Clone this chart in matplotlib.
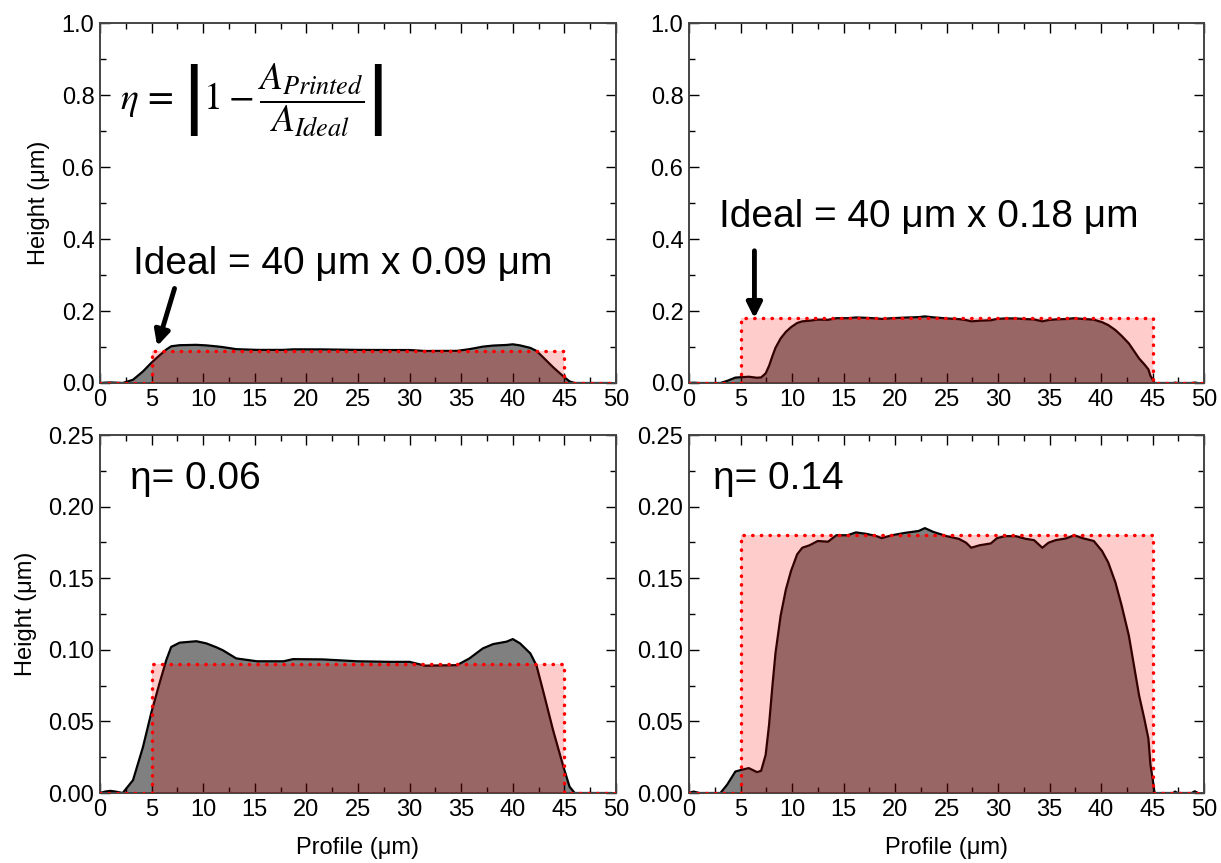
import numpy as np
import matplotlib
matplotlib.use("Agg")
import matplotlib.pyplot as plt
from matplotlib.ticker import MultipleLocator

plt.rcParams['font.family'] = ['Liberation Sans', 'DejaVu Sans']
plt.rcParams['mathtext.fontset'] = 'stix'

# printed profile, 0.09 um target
x1 = [0, 0.5, 1.0, 1.5, 2.2, 3.2, 4.16, 4.97, 5.78, 6.43, 6.9, 7.72, 9.34, 10.3, 11.3,
      11.9, 13.2, 15.2, 17.8, 18.7, 21.6, 24.9, 28.1, 30.0, 31.5, 34.6, 35.8, 37.1,
      38.1, 39.4, 40.0, 40.7, 41.7, 42.3, 43.0, 43.9, 44.9, 45.5, 46.0, 48.0, 49.5]
y1 = [0, 0.001, 0.0015, 0.001, 0, 0.009, 0.032, 0.056, 0.077, 0.093, 0.102, 0.105, 0.106,
      0.1045, 0.1017, 0.0997, 0.094, 0.092, 0.092, 0.0935, 0.0933, 0.092, 0.0916, 0.0916,
      0.0889, 0.0893, 0.094, 0.101, 0.104, 0.1057, 0.1075, 0.1045, 0.0975, 0.089, 0.0696,
      0.044, 0.0184, 0.0044, 0, 0, 0]

# printed profile, 0.18 um target
x2 = [0, 0.44, 1.0, 3.05, 3.7, 4.5, 5.0, 5.8, 6.6, 7.0, 7.44, 7.77, 8.1, 8.4, 8.9, 9.4, 9.9,
      10.5, 11.0, 11.7, 12.5, 13.5, 14.3, 15.4, 16.2, 17.2, 18.2, 18.7, 19.7, 21.0, 22.3,
      22.9, 23.7, 25.0, 26.2, 26.9, 27.4, 28.2, 29.3, 29.9, 30.7, 31.7, 32.7, 33.5, 34.3,
      34.9, 35.6, 36.6, 37.4, 38.2, 39.3, 40.1, 40.7, 41.4, 42.0, 42.7, 43.2, 43.7, 44.2,
      44.6, 44.8, 45.0, 45.2, 47.0, 47.2, 47.4, 48.8, 49.1, 49.4]
y2 = [0, 0.001, 0, 0, 0.0058, 0.015, 0.016, 0.0174, 0.0146, 0.0155, 0.0266, 0.0475, 0.075,
      0.098, 0.124, 0.142, 0.155, 0.1667, 0.1713, 0.173, 0.176, 0.1755, 0.180, 0.180, 0.182,
      0.181, 0.1794, 0.178, 0.180, 0.1817, 0.183, 0.185, 0.1824, 0.1794, 0.1775, 0.1748,
      0.1713, 0.173, 0.1743, 0.178, 0.1794, 0.1794, 0.1775, 0.1766, 0.1713, 0.1748, 0.1766,
      0.1778, 0.180, 0.178, 0.176, 0.169, 0.161, 0.147, 0.131, 0.110, 0.089, 0.068, 0.052,
      0.038, 0.0197, 0.0104, 0, 0, 0.001, 0, 0, 0.0012, 0]

# ideal rectangles
ideal_x = [0, 5, 5, 45, 45, 50]
ideal_h = [0.09, 0.18]

profiles = [(x1, y1), (x2, y2)]
ideal_txt = ['Ideal = 40 μm x 0.09 μm', 'Ideal = 40 μm x 0.18 μm']
eta_txt = ['η= 0.06', 'η= 0.14']

fig = plt.figure(figsize=(12.21, 8.63), dpi=100)
axes_pos = {
    (0, 0): [0.0819, 0.5562, 0.4226, 0.4171],
    (0, 1): [0.5643, 0.5562, 0.4218, 0.4171],
    (1, 0): [0.0819, 0.0811, 0.4226, 0.4148],
    (1, 1): [0.5643, 0.0811, 0.4218, 0.4148],
}

for (r, c), pos in axes_pos.items():
    ax = fig.add_axes(pos)
    px, py = profiles[c]
    h = ideal_h[c]
    iy = [0, 0, h, h, 0, 0]
    ax.fill_between(px, py, color='#808080', lw=0, zorder=1)
    ax.plot(px, py, color='black', lw=1.6, zorder=2)
    ax.fill_between(ideal_x, iy, color='red', alpha=0.2, lw=0, zorder=3)
    ax.plot(ideal_x, iy, color='red', ls=(0, (0.1, 2.4)), lw=2.5,
            dash_capstyle='round', zorder=4)

    ax.set_xlim(0, 50)
    ax.xaxis.set_major_locator(MultipleLocator(5))
    ax.xaxis.set_minor_locator(MultipleLocator(2.5))
    if r == 0:
        ax.set_ylim(0, 1.0)
        ax.yaxis.set_major_locator(MultipleLocator(0.2))
        ax.yaxis.set_minor_locator(MultipleLocator(0.1))
        ax.yaxis.set_major_formatter(lambda v, p: f'{v:.1f}')
    else:
        ax.set_ylim(0, 0.25)
        ax.yaxis.set_major_locator(MultipleLocator(0.05))
        ax.yaxis.set_minor_locator(MultipleLocator(0.025))
        ax.yaxis.set_major_formatter(lambda v, p: f'{v:.2f}')
        ax.set_xlabel('Profile (μm)', fontsize=17, labelpad=12)

    ax.tick_params(which='both', direction='in', top=True, right=True,
                   labelsize=17, pad=4)
    ax.tick_params(which='major', length=7, width=1)
    ax.tick_params(which='minor', length=4, width=1)
    for s in ax.spines.values():
        s.set_color('#444444')
        s.set_linewidth(1.4)
    if c == 0:
        ax.set_ylabel('Height (μm)', fontsize=17, labelpad=8)

    if r == 0 and c == 0:
        ax.text(1.9, 0.785, r'$\eta\,=\,\left|1-\dfrac{A_{Printed}}{A_{Ideal}}\right|$',
                fontsize=27, va='center', ha='left')
        ax.text(3.2, 0.33, ideal_txt[0], fontsize=28, va='center', ha='left')
        ax.annotate('', xy=(5.46, 0.095), xytext=(7.3, 0.27),
                    arrowprops=dict(arrowstyle='-|>,head_width=0.45,head_length=0.9',
                                    color='black', lw=3.5))
    elif r == 0 and c == 1:
        ax.text(2.9, 0.46, ideal_txt[1], fontsize=28, va='center', ha='left')
        ax.annotate('', xy=(6.35, 0.172), xytext=(6.35, 0.375),
                    arrowprops=dict(arrowstyle='-|>,head_width=0.45,head_length=0.9',
                                    color='black', lw=3.5))
    else:
        ax.text(2.9 if c == 0 else 2.3, 0.219, eta_txt[c], fontsize=28,
                va='center', ha='left')

fig.savefig('out.png', dpi=100)
